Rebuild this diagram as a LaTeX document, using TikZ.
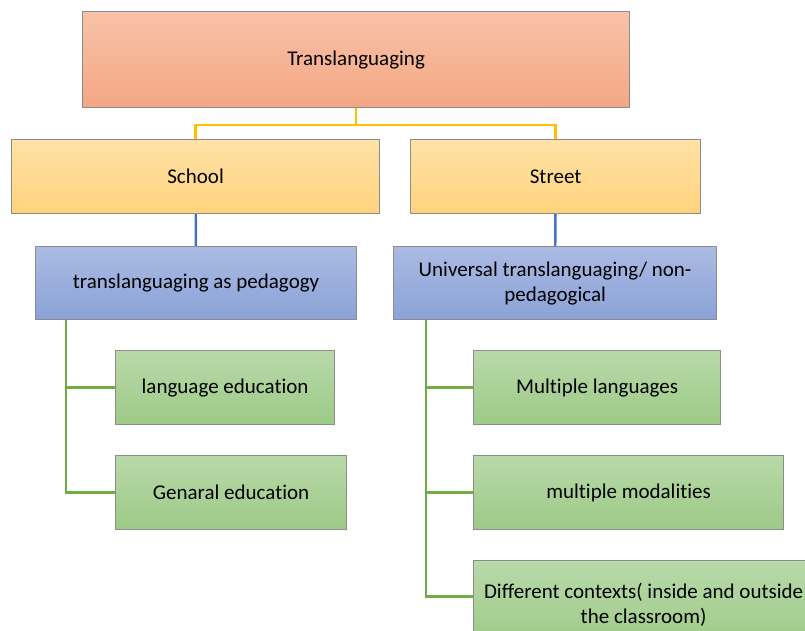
\documentclass[tikz,border=0pt]{standalone}
\usepackage{fontspec}
\setmainfont[Ligatures=NoCommon]{Carlito}
\usepackage{tikz}
\usetikzlibrary{positioning}

\definecolor{lineY}{HTML}{FFC000}
\definecolor{lineB}{HTML}{4472C4}
\definecolor{lineG}{HTML}{70AD47}
\definecolor{boxedge}{HTML}{8C8C8C}
\definecolor{redT}{HTML}{F8C2A8}
\definecolor{redB}{HTML}{F4A683}
\definecolor{yelT}{HTML}{FFE2A6}
\definecolor{yelB}{HTML}{FFD37C}
\definecolor{bluT}{HTML}{ABBAE3}
\definecolor{bluB}{HTML}{8AA3D8}
\definecolor{grnT}{HTML}{B8D9A9}
\definecolor{grnB}{HTML}{9DCA87}

\begin{document}
\begin{tikzpicture}[
    %–––– GLOBAL STYLE TWEAKS ––––
    x=1pt, y=-1pt,
    font=\fontsize{21}{25}\selectfont,
    box/.style = {rectangle, draw=boxedge, line width=1.2pt, align=center,
                  anchor=north west, inner sep=2pt},
    redbox/.style    = {box, top color=redT, bottom color=redB},
    yellowbox/.style = {box, top color=yelT, bottom color=yelB},
    bluebox/.style   = {box, top color=bluT, bottom color=bluB},
    greenbox/.style  = {box, top color=grnT, bottom color=grnB},
    yline/.style = {draw=lineY, line width=2.4pt},
    bline/.style = {draw=lineB, line width=2.4pt},
    gline/.style = {draw=lineG, line width=2.4pt},
]
\useasboundingbox (0,0) rectangle (805,631);

%–––– TOP ––––
\node (top)       [redbox, minimum width=547, minimum height=96]    at (82,11)  {Translanguaging};

%–––– SECOND ROW ––––
\node (school)    [yellowbox, minimum width=368, minimum height=74] at (11,139) {School};
\node (street)    [yellowbox, minimum width=290, minimum height=74] at (410,139) {Street};

%–––– THIRD ROW ––––
\node (pedagogy)  [bluebox, minimum width=321, minimum height=73]   at (35,246) {translanguaging as pedagogy};
\node (universal) [bluebox, minimum width=323, minimum height=73]   at (393,246) {Universal translanguaging/ non-\\pedagogical};

%–––– LEAVES ––––
\node (langedu)   [greenbox, minimum width=219, minimum height=74]  at (115,350) {language education};
\node (genedu)    [greenbox, minimum width=231, minimum height=74]  at (115,455) {Genaral education};
\node (multilang) [greenbox, minimum width=247, minimum height=74]  at (473,350) {Multiple languages};
\node (multimod)  [greenbox, minimum width=310, minimum height=74]  at (473,455) {multiple modalities};
\node (contexts)  [greenbox, minimum width=340, minimum height=88]  at (473,560) {Different contexts( inside and outside\\the classroom)};

%–––– CONNECTORS ––––
\foreach \b in {school, street}
  \draw[yline] (top.south) -- ++(0,17) -| (\b.north);
\draw[bline] (school) -- (pedagogy);
\draw[bline] (street) -- (universal);
\foreach \b in {langedu, genedu}
  \draw[gline] ([xshift=31pt]pedagogy.south west) |- (\b.west);
\draw[gline] ([xshift=33pt]universal.south west) |- (multilang.west);
\draw[gline] ([xshift=33pt]universal.south west) |- (multimod.west);
\draw[gline] ([xshift=33pt]universal.south west) |- ([yshift=8pt]contexts.west);
\end{tikzpicture}
\end{document}
